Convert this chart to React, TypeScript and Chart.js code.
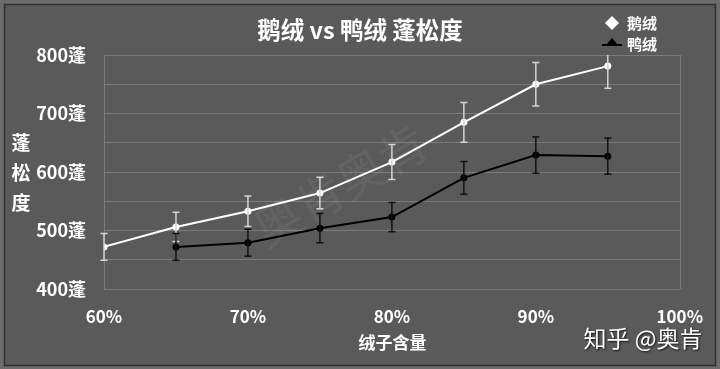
import { useEffect, useRef } from "react";
import Chart from "chart.js/auto";

const chartTitle = "鹅绒 vs 鸭绒 蓬松度";
const seriesNames = ["鹅绒", "鸭绒"];
const xAxisTitle = "绒子含量";
const yAxisTitle = ["蓬", "松", "度"];
const watermark = "知乎 @奥肯";
const bgMark = "奥肯奥肯";

const gooseX = [0.6, 0.65, 0.7, 0.75, 0.8, 0.85, 0.9, 0.95];
const gooseY = [472, 506, 533, 564, 617, 685, 750, 781];
const gooseErr = [23, 25, 26, 27, 30, 34, 37, 38];

const duckX = [0.65, 0.7, 0.75, 0.8, 0.85, 0.9, 0.95];
const duckY = [472, 479, 504, 523, 590, 629, 627];
const duckErr = [23, 23, 25, 25, 28, 31, 31];

const xMin = 0.6, xMax = 1.0, xStep = 0.1;
const yMin = 400, yMax = 800, yStep = 50, yLabelStep = 100;
const yUnit = "蓬";

const FONT = '"Noto Sans CJK SC", "Noto Sans", sans-serif';

export default function App() {
  const ref = useRef<HTMLCanvasElement | null>(null);
  useEffect(() => {
    if (!ref.current) return;
    const errs = [gooseErr, duckErr];
    const errColors = ["#d4d4d4", "#111111"];

    const decor = {
      id: "decor",
      beforeDraw(chart: any) {
        const { ctx, width, height } = chart;
        ctx.save();
        ctx.fillStyle = "#6c6c6c";
        ctx.fillRect(0, 0, width, height);
        ctx.fillStyle = "#5a5a5a";
        ctx.fillRect(4, 4, width - 8, height - 7);
        ctx.strokeStyle = "#2e2e2e";
        ctx.lineWidth = 1.5;
        ctx.strokeRect(4.5, 4.5, width - 9, height - 8);
        ctx.restore();
      },
      beforeDatasetsDraw(chart: any) {
        const { ctx, chartArea: a } = chart;
        ctx.save();
        ctx.strokeStyle = "#7a7a7a";
        ctx.lineWidth = 1;
        ctx.beginPath();
        ctx.moveTo(Math.round(a.left) + 0.5, a.top);
        ctx.lineTo(Math.round(a.left) + 0.5, a.bottom);
        ctx.moveTo(Math.round(a.right) + 0.5, a.top);
        ctx.lineTo(Math.round(a.right) + 0.5, a.bottom);
        ctx.stroke();
        // diagonal watermark
        ctx.translate(340, 185);
        ctx.rotate(-0.52);
        ctx.font = `48px ${FONT}`;
        ctx.textAlign = "center";
        ctx.textBaseline = "middle";
        ctx.fillStyle = "rgba(255,255,255,0.06)";
        ctx.fillText(bgMark, 0, 0);
        ctx.restore();
      },
      afterDatasetsDraw(chart: any) {
        const { ctx, chartArea: a, scales } = chart;
        ctx.save();
        ctx.beginPath();
        ctx.rect(a.left - 5, a.top, a.right - a.left + 10, a.bottom - a.top);
        ctx.clip();
        chart.data.datasets.forEach((ds: any, i: number) => {
          ctx.strokeStyle = errColors[i];
          ctx.lineWidth = 1.5;
          ds.data.forEach((p: any, j: number) => {
            const e = errs[i][j];
            const x = scales.x.getPixelForValue(p.x);
            const y1 = scales.y.getPixelForValue(p.y + e);
            const y2 = scales.y.getPixelForValue(p.y - e);
            ctx.beginPath();
            ctx.moveTo(x, y1);
            ctx.lineTo(x, y2);
            ctx.moveTo(x - 3.5, y1);
            ctx.lineTo(x + 3.5, y1);
            ctx.moveTo(x - 3.5, y2);
            ctx.lineTo(x + 3.5, y2);
            ctx.stroke();
          });
        });
        ctx.restore();
      },
      afterDraw(chart: any) {
        const { ctx, chartArea: a } = chart;
        ctx.save();
        ctx.fillStyle = "#ffffff";
        ctx.textAlign = "center";
        ctx.textBaseline = "middle";
        ctx.font = `bold 23.5px ${FONT}`;
        ctx.fillText(chartTitle, 360, 30);
        // legend
        ctx.font = `bold 15px ${FONT}`;
        ctx.textAlign = "left";
        ctx.fillText(seriesNames[0], 627, 23);
        ctx.fillText(seriesNames[1], 627, 44);
        ctx.beginPath();
        ctx.moveTo(612, 16);
        ctx.lineTo(619, 23);
        ctx.lineTo(612, 30);
        ctx.lineTo(605, 23);
        ctx.closePath();
        ctx.fill();
        ctx.fillStyle = "#000000";
        ctx.beginPath();
        ctx.moveTo(612, 38);
        ctx.lineTo(618, 45);
        ctx.lineTo(606, 45);
        ctx.closePath();
        ctx.fill();
        ctx.strokeStyle = "#000000";
        ctx.lineWidth = 2;
        ctx.beginPath();
        ctx.moveTo(602, 45);
        ctx.lineTo(622, 45);
        ctx.stroke();
        // axis titles
        ctx.fillStyle = "#ffffff";
        ctx.textAlign = "center";
        ctx.font = `bold 19px ${FONT}`;
        yAxisTitle.forEach((c, i) => ctx.fillText(c, 21, 143 + i * 30));
        ctx.font = `bold 17px ${FONT}`;
        ctx.fillText(xAxisTitle, (a.left + a.right) / 2 + 0.5, 343);
        // watermark
        ctx.font = `23px ${FONT}`;
        ctx.shadowColor = "rgba(0,0,0,0.8)";
        ctx.shadowOffsetX = 1;
        ctx.shadowOffsetY = 1;
        ctx.shadowBlur = 2;
        ctx.fillText(watermark, 643, 338);
        ctx.restore();
      },
    };

    const chart = new Chart(ref.current, {
      type: "line",
      data: {
        datasets: [
          {
            label: seriesNames[0],
            data: gooseX.map((x, i) => ({ x, y: gooseY[i] })),
            borderColor: "#ffffff",
            backgroundColor: "#ffffff",
            borderWidth: 2,
            pointRadius: 2.5,
            pointStyle: "circle",
          },
          {
            label: seriesNames[1],
            data: duckX.map((x, i) => ({ x, y: duckY[i] })),
            borderColor: "#000000",
            backgroundColor: "#000000",
            borderWidth: 2,
            pointRadius: 2.5,
            pointStyle: "circle",
          },
        ],
      },
      options: {
        animation: false,
        responsive: true,
        maintainAspectRatio: false,
        layout: { padding: { top: 55, left: 0, right: 35, bottom: 0 } },
        plugins: { legend: { display: false }, title: { display: false }, tooltip: { enabled: false } },
        scales: {
          x: {
            type: "linear",
            min: xMin,
            max: xMax,
            grid: { display: false, drawTicks: false },
            border: { display: false },
            ticks: {
              stepSize: xStep,
              padding: 17,
              color: "#ffffff",
              font: { family: FONT, size: 17, weight: "bold" },
              callback: (v: any) => `${Math.round(Number(v) * 100)}%`,
            },
            afterFit: (s: any) => { s.height = 80; },
          },
          y: {
            min: yMin,
            max: yMax,
            grid: { color: "#7a7a7a", lineWidth: 1, drawTicks: false },
            border: { display: false },
            ticks: {
              stepSize: yStep,
              padding: 18,
              color: "#ffffff",
              font: { family: FONT, size: 18, weight: "bold" },
              autoSkip: false,
              callback: (v: any) => (Number(v) % yLabelStep === 0 ? `${v}${yUnit}` : ""),
            },
            afterFit: (s: any) => { s.width = 104; },
          },
        },
      },
      plugins: [decor],
    });
    return () => chart.destroy();
  }, []);
  return (
    <div style={{ position: "absolute", left: 0, top: 0, width: 720, height: 369 }}>
      <canvas ref={ref} />
    </div>
  );
}
